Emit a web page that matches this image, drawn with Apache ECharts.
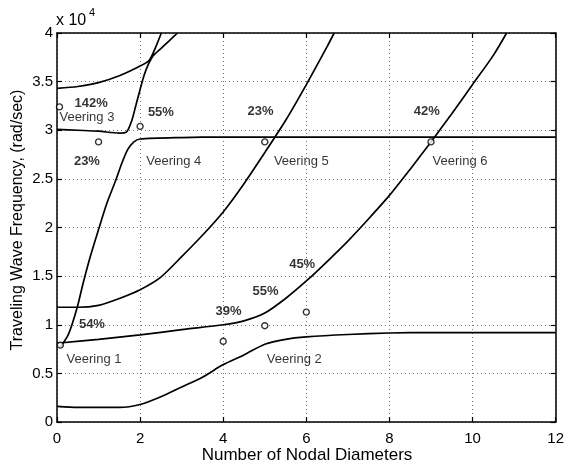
<!DOCTYPE html>
<html>
<head>
<meta charset="utf-8">
<script src="https://cdn.jsdelivr.net/npm/echarts@6/dist/echarts.min.js"></script>
<style>
  html, body { margin: 0; padding: 0; background: #fff; }
  #chart { width: 567px; height: 465px; }
</style>
</head>
<body>
<div id="chart"></div>
<script>
// Traveling wave frequency (x 10^4 rad/sec) versus number of nodal diameters.
const xTicks = [0, 2, 4, 6, 8, 10, 12];
const yTicks = [0, 0.5, 1, 1.5, 2, 2.5, 3, 3.5, 4];

// Frequency branches, [nodal diameters, frequency x 1e4]
const branch1 = [[0,0.16],[0.5,0.15],[1,0.15],[1.5,0.15],[2,0.18],[2.5,0.26],[3,0.36],[3.5,0.46],[4,0.59],[4.5,0.69],[5,0.8],[5.5,0.85],[6,0.875],[7,0.9],[8,0.915],[9,0.92],[10,0.92],[11,0.92],[12,0.92]];
const branch2 = [[0,0.81],[1,0.85],[2,0.895],[3,0.95],[4,1.0],[4.5,1.04],[5,1.12],[5.5,1.27],[6,1.45],[6.5,1.65],[7,1.86],[7.5,2.09],[8,2.33],[8.5,2.6],[9,2.88],[9.5,3.17],[10,3.47],[10.5,3.77],[10.82,4.0]];
const branch3 = [[0,1.18],[0.5,1.18],[1,1.2],[1.5,1.27],[2,1.36],[2.5,1.49],[3,1.7],[3.5,1.92],[4,2.16],[4.5,2.45],[5,2.77],[5.5,3.1],[6,3.47],[6.5,3.86],[6.67,4.0]];
const branch4 = [[0.08,0.77],[0.25,0.88],[0.36,1.0],[0.5,1.2],[0.63,1.43],[0.8,1.7],[1,1.98],[1.2,2.25],[1.4,2.47],[1.56,2.66],[1.7,2.8],[1.85,2.88],[2,2.91],[3,2.925],[4,2.93],[6,2.93],[8,2.93],[10,2.93],[12,2.93]];
const branch5 = [[0,3.01],[0.5,3.0],[1,2.99],[1.5,2.97],[1.67,2.98],[1.8,3.1],[1.9,3.26],[2.0,3.42],[2.1,3.57],[2.2,3.68],[2.32,3.77],[2.5,3.84],[2.7,3.92],[2.9,4.0]];
const branch6 = [[0,3.43],[0.5,3.45],[1,3.49],[1.5,3.56],[2,3.66],[2.22,3.72],[2.38,3.86],[2.51,4.0]];

// Predicted veering points
const markers = [[0.08,0.79],[0.06,3.24],[1,2.88],[2,3.04],[5,2.88],[9,2.88],[4,0.83],[5,0.99],[6,1.13]];

// Text annotations: [x, y, text]
const notes = [
  [0.82,3.28,'142%'], [0.72,3.13,'Veering 3'], [2.5,3.18,'55%'],
  [0.72,2.68,'23%'], [2.81,2.68,'Veering 4'],
  [4.9,3.19,'23%'], [5.88,2.68,'Veering 5'],
  [8.9,3.19,'42%'], [9.7,2.68,'Veering 6'],
  [5.9,1.62,'45%'], [5.02,1.34,'55%'], [4.13,1.14,'39%'],
  [0.84,1.0,'54%'], [0.89,0.64,'Veering 1'], [5.71,0.64,'Veering 2']
];

const FONT = 'Liberation Sans, Arial, Helvetica, sans-serif';
const chart = echarts.init(document.getElementById('chart'), null, { renderer: 'canvas' });

const lineSeries = [branch1, branch2, branch3, branch4, branch5, branch6].map(d => ({
  type: 'line', data: d, smooth: 0.25, showSymbol: false, clip: true,
  lineStyle: { color: '#000', width: 1.7 }, z: 3, silent: true
}));

const gridLine = { show: true, lineStyle: { color: '#777', width: 1, type: [1, 3] } };
const frameLine = { show: true, onZero: false, lineStyle: { color: '#000', width: 1.5 } };
const frameTick = { show: true, inside: true, length: 5, lineStyle: { color: '#000', width: 1.2 } };

chart.setOption({
  animation: false,
  backgroundColor: '#fff',
  grid: { left: 57, right: 10, top: 33, bottom: 43 },
  xAxis: [{
    type: 'value', min: 0, max: 12, interval: 2,
    axisLine: frameLine, axisTick: frameTick,
    axisLabel: { color: '#000', fontSize: 15, fontFamily: FONT, margin: 9,
      formatter: v => xTicks.includes(v) ? String(v) : '' },
    splitLine: gridLine
  }, {
    type: 'value', min: 0, max: 12, interval: 2, position: 'top',
    axisLine: frameLine, axisTick: frameTick,
    axisLabel: { show: false }, splitLine: { show: false }
  }],
  yAxis: [{
    type: 'value', min: 0, max: 4, interval: 0.5,
    axisLine: frameLine, axisTick: frameTick,
    axisLabel: { color: '#000', fontSize: 15, fontFamily: FONT, margin: 4,
      formatter: v => yTicks.includes(v) ? String(v) : '' },
    splitLine: gridLine
  }, {
    type: 'value', min: 0, max: 4, interval: 0.5, position: 'right',
    axisLine: frameLine, axisTick: frameTick,
    axisLabel: { show: false }, splitLine: { show: false }
  }],
  graphic: [{
    type: 'text', left: 56, top: 13,
    style: { text: 'x 10', fontSize: 16, fontFamily: FONT, fill: '#000' }
  }, {
    type: 'text', left: 89, top: 7,
    style: { text: '4', fontSize: 11, fontFamily: FONT, fill: '#000' }
  }, {
    type: 'text', x: 18, y: 220, rotation: Math.PI / 2,
    style: { text: 'Traveling Wave Frequency, (rad/sec)', fontSize: 16, fontFamily: FONT,
      fill: '#000', align: 'center', verticalAlign: 'middle' }
  }, {
    type: 'text', x: 307, y: 455,
    style: { text: 'Number of Nodal Diameters', fontSize: 17, fontFamily: FONT,
      fill: '#000', align: 'center', verticalAlign: 'middle' }
  }],
  series: lineSeries.concat([{
    type: 'scatter', data: markers, symbol: 'circle', symbolSize: 6,
    itemStyle: { color: '#fff', borderColor: '#000', borderWidth: 1.4 }, z: 4, silent: true
  }, {
    type: 'scatter', data: notes, symbolSize: 0, z: 5, silent: true,
    label: {
      show: true, position: 'inside', color: '#000', fontSize: 13, fontFamily: FONT,
      formatter: p => p.data[2].endsWith('%') ? '{b|' + p.data[2] + '}' : p.data[2],
      rich: { b: { fontSize: 13, fontWeight: 'bold', fontFamily: FONT, color: '#000' } }
    },
    labelLayout: { hideOverlap: false }
  }])
});
</script>
</body>
</html>
